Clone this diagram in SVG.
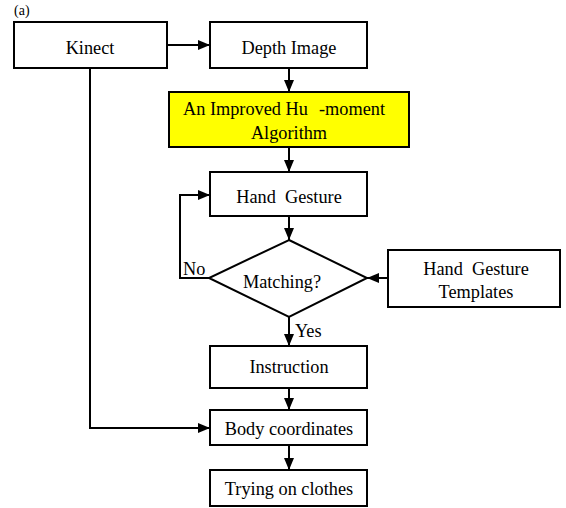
<svg xmlns="http://www.w3.org/2000/svg" width="566" height="508" viewBox="0 0 566 508">
<style>
.b{fill:#fff;stroke:#000;stroke-width:2}
.y{fill:#ffff00;stroke:#000;stroke-width:2}
text{font-family:'Liberation Serif','DejaVu Serif','Times New Roman',serif;font-size:18.3px;fill:#000}
.c{text-anchor:middle}
.l{fill:none;stroke:#000;stroke-width:2}
</style>
<defs>
<marker id="a" markerWidth="12" markerHeight="10" refX="12" refY="5" orient="auto" markerUnits="userSpaceOnUse">
<path d="M0,0 L12,5 L0,10 Z" fill="#000"/>
</marker>
</defs>
<text x="14" y="15" style="font-size:14px">(a)</text>
<g id="connectors">
<path class="l" d="M167,45 L210,45" marker-end="url(#a)"/>
<path class="l" d="M289,68 L289,92" marker-end="url(#a)"/>
<path class="l" d="M289,147 L289,172" marker-end="url(#a)"/>
<path class="l" d="M289,216 L289,240" marker-end="url(#a)"/>
<path class="l" d="M209,278 L180,278 L180,195 L210,195" marker-end="url(#a)"/>
<path class="l" d="M388,278 L367,278" marker-end="url(#a)"/>
<path class="l" d="M289,317 L289,346" marker-end="url(#a)"/>
<path class="l" d="M289,388 L289,410" marker-end="url(#a)"/>
<path class="l" d="M289,445 L289,470" marker-end="url(#a)"/>
<path class="l" d="M90,68 L90,428 L210,428" marker-end="url(#a)"/>
<text x="183" y="275">No</text>
<text x="295" y="337">Yes</text>
</g>
<g id="kinect"><rect class="b" x="14" y="22" width="153" height="46"/><text class="c" x="90" y="54">Kinect</text></g>
<g id="depth"><rect class="b" x="210" y="22" width="157" height="46"/><text class="c" x="289" y="54">Depth Image</text></g>
<g id="hu"><rect class="y" x="169" y="92" width="240" height="55"/><text x="183" y="115">An Improved Hu</text><text x="319" y="115">-moment</text><text class="c" x="289" y="139">Algorithm</text></g>
<g id="hand"><rect class="b" x="210" y="172" width="157" height="44"/><text class="c" x="289" y="203" xml:space="preserve">Hand  Gesture</text></g>
<g id="matching"><path class="b" d="M289,240 L367,278 L289,317 L209,278 Z"/><text class="c" x="282" y="288">Matching?</text></g>
<g id="templates"><rect class="b" x="388" y="250" width="172" height="57"/><text class="c" x="476" y="275" xml:space="preserve">Hand  Gesture</text><text class="c" x="476" y="298">Templates</text></g>
<g id="instruction"><rect class="b" x="210" y="346" width="157" height="42"/><text class="c" x="289" y="373">Instruction</text></g>
<g id="body"><rect class="b" x="210" y="410" width="157" height="35"/><text class="c" x="289" y="435">Body coordinates</text></g>
<g id="trying"><rect class="b" x="210" y="470" width="157" height="36"/><text class="c" x="289" y="495">Trying on clothes</text></g>
</svg>
